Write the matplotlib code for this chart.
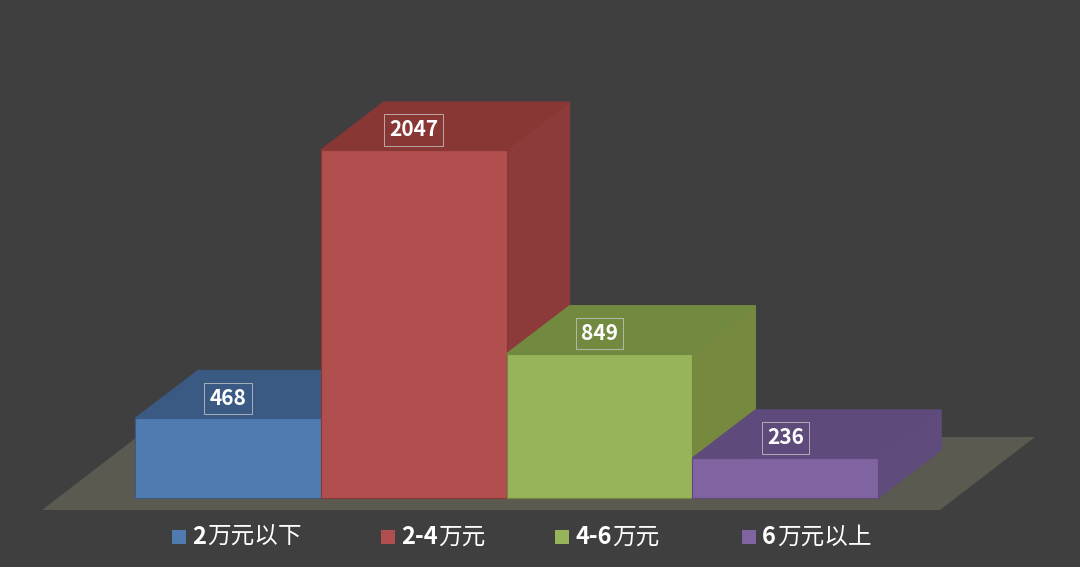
import matplotlib.pyplot as plt
from matplotlib.patches import Polygon

plt.rcParams['font.family'] = ['Noto Sans CJK SC', 'DejaVu Sans']

categories = ['2万元以下', '2-4万元', '4-6万元', '6万元以上']
values = [468, 2047, 849, 236]
front_colors = ['#4f7bb1', '#b04f4d', '#98b45a', '#8064a2']
top_colors = ['#3a5a84', '#893735', '#728a3f', '#5f4a7c']
side_colors = ['#3c5d88', '#8d3b3a', '#76893f', '#604b7d']

BG = '#3f3f3f'
X0, BW = 135, 185.8      # pixel layout
BASE = 498
SCALE = 348 / 2047       # px per unit
DX, DY = 63, -48

fig = plt.figure(figsize=(10.8, 5.67), dpi=100)
fig.patch.set_facecolor(BG)
ax = fig.add_axes([0, 0, 1, 1])
ax.set_xlim(0, 1080)
ax.set_ylim(567, 0)
ax.axis('off')
ax.set_facecolor(BG)

# floor
ax.add_patch(Polygon([(42, 510), (940, 510), (1035, 437), (137, 437)],
                     closed=True, facecolor='#5b5a50', edgecolor='none'))

for i, (v, fc, tc, sc) in enumerate(zip(values, front_colors, top_colors, side_colors)):
    x1 = X0 + i * BW
    x2 = x1 + BW
    top = BASE - v * SCALE
    ax.add_patch(Polygon([(x2, BASE), (x2 + DX, BASE + DY), (x2 + DX, top + DY), (x2, top)],
                         closed=True, facecolor=sc, edgecolor=sc, lw=0.8))
    ax.add_patch(Polygon([(x1, top), (x2, top), (x2 + DX, top + DY), (x1 + DX, top + DY)],
                         closed=True, facecolor=tc, edgecolor=tc, lw=0.8))
    ax.add_patch(Polygon([(x1, BASE), (x2, BASE), (x2, top), (x1, top)],
                         closed=True, facecolor=fc, edgecolor=tc, lw=0.8))
    ax.text(x1 + BW / 2, top - 20, str(v), ha='center', va='center',
            color='white', fontsize=15, fontweight='bold',
            bbox=dict(boxstyle='square,pad=0.25', facecolor=tc, alpha=0.9,
                      edgecolor='#c8c8c8', lw=0.6))

# legend: bold digits, regular Chinese
leg_x = [172, 381, 555, 742]
renderer = fig.canvas.get_renderer()
for lx, cat, fc in zip(leg_x, categories, front_colors):
    ax.add_patch(Polygon([(lx, 530), (lx + 14, 530), (lx + 14, 544), (lx, 544)],
                         closed=True, facecolor=fc, edgecolor='none'))
    k = cat.index('万')
    t = ax.text(lx + 20, 537, cat[:k], ha='left', va='center', color='white',
                fontsize=17, fontweight='bold')
    w = t.get_window_extent(renderer).width
    ax.text(lx + 20 + w + 1, 537, cat[k:], ha='left', va='center', color='white',
            fontsize=17)

fig.savefig('out.png', dpi=100, facecolor=BG)
